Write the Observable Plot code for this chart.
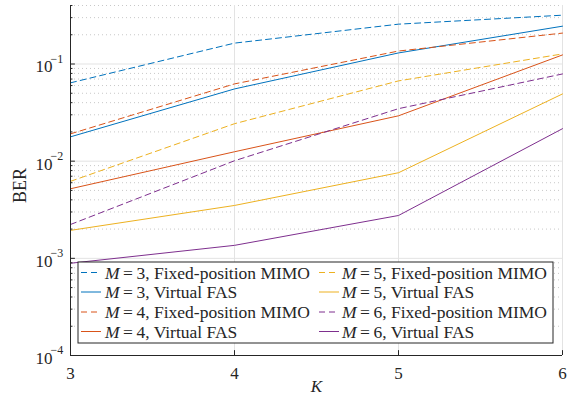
<!DOCTYPE html>
<html><head><meta charset="utf-8">
<script src="https://cdn.jsdelivr.net/npm/d3@7"></script>
<script src="https://cdn.jsdelivr.net/npm/@observablehq/plot@0.6"></script>
<style>body{margin:0;background:#fff}</style>
</head><body><div id="chart"></div>
<script>
const K = [3, 4, 5, 6];
const M3_fixed = [0.064, 0.164, 0.257, 0.318];
const M3_vfas  = [0.0178, 0.0554, 0.130, 0.245];
const M4_fixed = [0.0191, 0.0624, 0.136, 0.208];
const M4_vfas  = [0.0052, 0.0125, 0.0293, 0.124];
const M5_fixed = [0.0062, 0.0243, 0.067, 0.127];
const M5_vfas  = [0.00194, 0.0035, 0.0076, 0.0492];
const M6_fixed = [0.00223, 0.0101, 0.0347, 0.079];
const M6_vfas  = [0.00089, 0.00136, 0.00276, 0.0216];
const yMajor = [1e-4, 1e-3, 1e-2, 1e-1];
const yExp = [-4, -3, -2, -1];
const xTicks = [3, 4, 5, 6];

const colors = {3: "#0072BD", 4: "#D95319", 5: "#EDB120", 6: "#7E2F8E"};
const series = [
  {M: 3, type: "fixed", v: M3_fixed}, {M: 3, type: "vfas", v: M3_vfas},
  {M: 4, type: "fixed", v: M4_fixed}, {M: 4, type: "vfas", v: M4_vfas},
  {M: 5, type: "fixed", v: M5_fixed}, {M: 5, type: "vfas", v: M5_vfas},
  {M: 6, type: "fixed", v: M6_fixed}, {M: 6, type: "vfas", v: M6_vfas}
];
const minor = [];
for (let e = -4; e <= -1; e++) for (let m = 2; m <= 9; m++) { const v = m * Math.pow(10, e); if (v <= 0.4 + 1e-9) minor.push(v); }

const font = "'Liberation Serif', 'DejaVu Serif', serif";
const ink = "#262626";

const lineMarks = series.map(s => Plot.line(K.map((k, i) => ({k, y: s.v[i]})), {
  x: "k", y: "y", stroke: colors[s.M], strokeWidth: 1,
  strokeDasharray: s.type === "fixed" ? "6,4" : null
}));

const chart = Plot.plot({
  width: 575, height: 400,
  marginLeft: 70, marginRight: 13, marginTop: 5, marginBottom: 45,
  style: {fontFamily: font, background: "#fff"},
  x: {domain: [3, 6], axis: null},
  y: {type: "log", domain: [1e-4, 0.4], axis: null},
  marks: [
    Plot.ruleY(minor, {y: d => d, stroke: "#c8c8c8", strokeDasharray: "1,3", strokeWidth: 1}),
    Plot.ruleY(yMajor, {y: d => d, stroke: "#e3e3e3", strokeWidth: 1}),
    Plot.ruleX(xTicks, {x: d => d, stroke: "#e3e3e3", strokeWidth: 1}),
    ...lineMarks,
    Plot.ruleX([3], {x: d => d, y1: 1e-4, y2: 0.4, stroke: ink, strokeWidth: 1}),
    Plot.ruleY([1e-4], {y: d => d, x1: 3, x2: 6, stroke: ink, strokeWidth: 1}),
    Plot.ruleY(yMajor, {y: d => d, x1: 3, x2: 3.03, stroke: ink}),
    Plot.ruleY(minor, {y: d => d, x1: 3, x2: 3.015, stroke: ink}),
    Plot.ruleX(xTicks, {x: d => d, y1: 1e-4, y2: 1e-4 * Math.pow(10, 0.05), stroke: ink}),
    Plot.text(xTicks, {x: d => d, y: 1e-4, dy: 18, text: d => String(d), fontSize: 17, fill: ink, fontFamily: font}),
    Plot.text(yMajor, {x: 3, y: d => d, dx: -35, dy: 3, text: () => "10", fontSize: 17, textAnchor: "start", fill: ink, fontFamily: font}),
    Plot.text(yMajor.map((v, i) => ({v, e: yExp[i]})), {x: 3, y: "v", dx: -20, dy: -5, text: d => "\u2212" + Math.abs(d.e), fontSize: 12, textAnchor: "start", fill: ink, fontFamily: font}),
    Plot.text(["K"], {x: 4.5, y: 1e-4, dy: 31, text: d => d, fontSize: 17, fontStyle: "italic", fill: ink, fontFamily: font}),
    Plot.text(["BER"], {x: 3, y: Math.sqrt(1e-4 * 0.4) , dx: -50, dy: 5, text: d => d, rotate: -90, fontSize: 18, fill: ink, fontFamily: font})
  ]
});
document.getElementById("chart").appendChild(chart);

// Legend inside plot
const svg = d3.select(chart);
const lg = svg.append("g").attr("text-anchor", "start");
const bx = 78, by = 262, bw = 475, bh = 81;
lg.append("rect").attr("x", bx).attr("y", by).attr("width", bw).attr("height", bh)
  .attr("fill", "#fff").attr("stroke", ink).attr("stroke-width", 1);
const rowY = [272.5, 292, 312, 331.5];
const cols = [{lx: 81, tx: 105}, {lx: 319, tx: 342}];
series.forEach((s, i) => {
  const c = cols[i < 4 ? 0 : 1];
  const y = rowY[i % 4];
  lg.append("line").attr("x1", c.lx).attr("x2", c.lx + 20).attr("y1", y).attr("y2", y)
    .attr("stroke", colors[s.M]).attr("stroke-width", 1)
    .attr("stroke-dasharray", s.type === "fixed" ? "6,4" : null);
  const t = lg.append("text").attr("x", c.tx).attr("y", y).attr("dy", "0.35em")
    .attr("text-anchor", "start")
    .attr("font-family", font).attr("font-size", 17.5).attr("fill", ink);
  t.append("tspan").attr("font-style", "italic").text("M");
  t.append("tspan").text("\u2009=\u2009" + s.M + ", " + (s.type === "fixed" ? "Fixed-position MIMO" : "Virtual FAS"));
});
</script></body></html>
